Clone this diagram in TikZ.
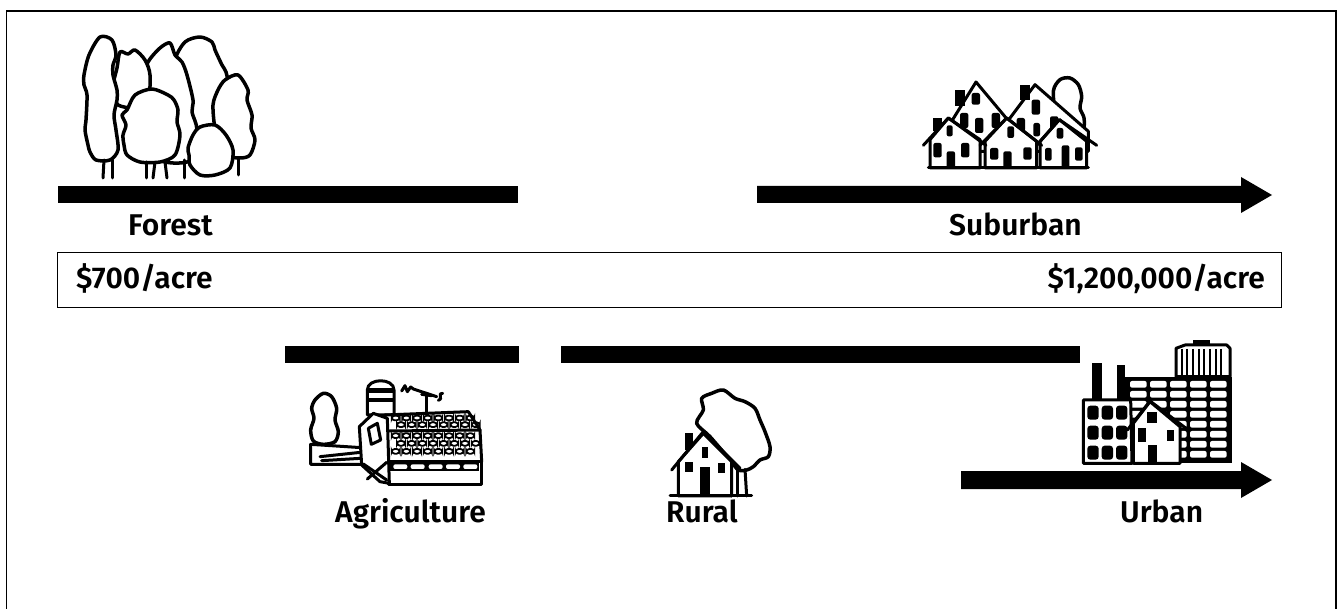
\documentclass[tikz,border=0pt]{standalone}
\usepackage{fontspec}
\setmainfont{Fira Sans}[BoldFont={Fira Sans SemiBold}]
\begin{document}
\begin{tikzpicture}[x=1pt,y=-1pt,
  lbl/.style={font=\fontsize{30}{36}\selectfont\bfseries, inner sep=0pt, anchor=base west},
  ink/.style={line width=3pt, line join=round, line cap=round},
  wob/.style={line width=3.5pt, line join=round},
  stone/.style={line width=1.8pt, rounded corners=3pt}]
\useasboundingbox (0,0) rectangle (1338,609);
\clip (0,0) rectangle (1338,609);
% frame
\draw[line width=1.7pt] (6.5,640) -- (6.5,11) -- (1336,11) -- (1336,640);
% price box
\draw[line width=1.3pt] (57.5,252.5) rectangle (1281.5,307.5);
\node[lbl] (lo) at (76,289) {\$700/acre};
\node[lbl, anchor=base east] (hi) at (1265,289) {\$1,200,000/acre};
% bars and arrows
\fill (58,186) rectangle (518,203);
\fill (757,186) -- (1241,186) -- (1241,177) -- (1272,195) -- (1241,213) -- (1241,203) -- (757,203) -- cycle;
\fill (285,346) rectangle (519,363);
\fill (561,346) rectangle (1080,363);
\fill (961,471) -- (1241,471) -- (1241,462) -- (1272,480) -- (1241,498) -- (1241,489) -- (961,489) -- cycle;
% labels
\node[lbl] (forest) at (128,236) {Forest};
\node[lbl] (suburban) at (949,236) {Suburban};
\node[lbl] (agri) at (335,522) {Agriculture};
\node[lbl] (rural) at (666,522) {Rural};
\node[lbl] (urban) at (1120,522) {Urban};

% ---------- forest ----------
\draw[wob, fill=white] plot[smooth cycle] coordinates {(185,42) (200,37) (212,42) (215,50) (222,65) (226,72) (228,85) (225,110) (219,118) (215,130) (208,150) (195,140) (188,125) (185,110) (180,95) (178,80) (175,60)};
\draw[wob, fill=white] plot[smooth cycle] coordinates {(160,48) (170,43) (175,55) (182,62) (187,75) (193,100) (192,112) (197,130) (192,160) (160,160) (150,130) (145,110) (146,95) (143,80) (148,62)};
\draw[wob, fill=white] plot[smooth cycle] coordinates {(120,52) (128,54) (135,50) (145,60) (150,75) (148,100) (135,108) (118,105) (115,95) (113,85) (117,68)};
\draw[wob, fill=white] plot[smooth cycle] coordinates {(100,37) (112,40) (116,55) (113,65) (113,75) (117,90) (117,100) (114,115) (116,130) (118,150) (110,160) (96,160) (90,152) (88,145) (85,130) (86,120) (87,95) (84,85) (84,75) (89,55)};
\draw[wob, fill=white] plot[smooth cycle] coordinates {(225,80) (238,75) (248,90) (247,100) (252,115) (251,128) (255,140) (250,155) (240,158) (225,155) (218,140) (215,130) (213,105) (218,90)};
\draw[wob, fill=white] plot[smooth cycle] coordinates {(135,95) (152,89) (168,95) (174,100) (178,110) (177,122) (180,135) (175,155) (160,162) (140,162) (127,155) (124,145) (123,135) (126,125) (122,115) (127,110)};
\draw[wob, fill=white] plot[smooth cycle] coordinates {(200,127) (215,125) (226,135) (233,150) (230,168) (215,175) (200,175) (190,165) (189,155) (188,148) (193,135)};
\draw[ink] (104,160) -- (103,178);
\draw[ink] (112,160) -- (112,178);
\draw[ink] (146,162) -- (146,178);
\draw[ink] (155,162) -- (153,178);
\draw[ink] (165,162) -- (167,178);
\draw[ink] (184,160) -- (184,178);
\draw[ink] (238,158) -- (238,175);

% ---------- suburban ----------
\begin{scope}[shift={(900,68)},scale=1/3]
\draw[wob, fill=white] plot[smooth cycle] coordinates {(460,70) (480,35) (510,30) (535,50) (545,85) (540,120) (552,150) (548,185) (500,190) (470,150)};
\draw[ink, fill=white] (130,200) -- (228,42) -- (335,170) -- (335,250) -- (130,250) -- cycle;
\draw[ink, fill=white] (315,170) -- (405,50) -- (565,190) -- (565,250) -- (315,250) -- cycle;
\fill (165,65) rectangle (195,115);
\fill (360,50) rectangle (390,95);
\fill (100,150) rectangle (125,190);
\foreach \a/\b/\c/\d in {215/75/240/110, 180/135/205/180, 225/150/250/195, 275/135/300/180, 395/95/420/140, 350/150/375/190, 400/165/420/205, 450/145/475/185}
  \fill[rounded corners=2pt] (\a,\b) rectangle (\c,\d);
\draw[ink, fill=white] (90,300) -- (90,215) -- (145,150) -- (240,215) -- (240,300) -- cycle;
\draw[ink, fill=white] (255,300) -- (255,220) -- (320,150) -- (410,220) -- (410,300) -- cycle;
\draw[ink, fill=white] (420,300) -- (420,220) -- (478,155) -- (560,220) -- (560,300) -- cycle;
\draw[ink] (70,232) -- (145,150) -- (258,232);
\draw[ink] (240,232) -- (320,150) -- (425,232);
\draw[ink] (410,232) -- (478,155) -- (590,232);
\foreach \a/\b/\c/\d in {100/225/125/268, 183/225/208/268, 140/250/165/300, 140/172/158/205, 270/240/295/275, 370/238/395/275, 310/250/335/300, 322/175/342/210, 435/240/455/278, 525/238/548/278, 485/232/508/300, 470/180/490/212}
  \fill[rounded corners=2pt] (\a,\b) rectangle (\c,\d);
\draw[ink] (85,300) -- (565,300);
\end{scope}

% ---------- agriculture ----------
\begin{scope}[shift={(290,365)},scale=1/3]
\draw[wob, fill=white] plot[smooth cycle] coordinates {(75,105) (100,85) (125,95) (140,130) (135,165) (145,200) (135,230) (100,238) (70,228) (62,195) (72,160) (65,130)};
\draw[ink, fill=white] (62,238) -- (215,248) -- (215,298) -- (62,298) -- cycle;
\draw[ink] (90,275) -- (212,262);
\draw[ink] (95,287) -- (212,280);
\draw[ink, fill=white] (232,150) -- (232,75) .. controls (232,38) and (312,38) .. (312,75) -- (312,150) -- cycle;
\fill (234,70) rectangle (310,84);
\fill (234,100) rectangle (310,110);
\draw[ink] (410,140) -- (410,85);
\draw[ink] (335,78) -- (345,62) -- (352,80) -- (362,66) -- (370,72) -- (440,95);
\draw[ink] (395,88) -- (425,92);
\draw[ink] (458,85) .. controls (440,82) and (462,105) .. (445,106);
\draw[ink, fill=white] (285,150) -- (535,140) -- (570,195) -- (575,290) -- (295,290) -- cycle;
\draw[ink] (298,198) -- (570,195);
\foreach \y/\o in {152/0, 172/16, 205/0, 228/16, 252/0}
  \foreach \x in {305,337,...,540}
    \draw[stone] (\x+\o,\y) rectangle ++(24,14);
\draw[ink, fill=white] (295,290) rectangle (575,360);
\fill (300,292) rectangle (568,318);
\foreach \x in {310,362,416,468,520}
  \fill[white, rounded corners=2pt] (\x,298) rectangle ++(42,14);
\draw[ink, fill=white] (208,185) -- (250,145) -- (292,160) -- (298,355) -- (270,350) -- (215,300) -- cycle;
\draw[ink, fill=white] (235,190) -- (262,175) -- (272,225) -- (244,238) -- cycle;
\draw[ink] (220,297) -- (290,345);
\draw[ink] (232,342) -- (290,292);
\end{scope}

% ---------- rural ----------
\begin{scope}[shift={(660,370)},scale=1/3]
\draw[wob, fill=white] plot[smooth cycle] coordinates {(110,160) (130,120) (125,85) (155,70) (190,60) (225,85) (255,95) (285,115) (300,150) (315,185) (330,230) (325,260) (300,270) (280,290) (260,300) (235,300) (210,270) (150,200)};
\draw[ink] (232,295) -- (232,378);
\draw[ink] (255,298) -- (260,378);
\draw[ink] (215,285) -- (215,378);
\fill (75,190) rectangle (100,240);
\draw[ink, fill=white] (55,378) -- (55,275) -- (130,190) -- (215,275) -- (215,378) -- cycle;
\draw[ink] (35,300) -- (130,185) -- (240,295);
\fill (125,230) rectangle (145,265);
\fill (75,275) rectangle (100,305);
\fill (175,280) rectangle (195,308);
\fill (120,290) rectangle (150,378);
\draw[ink] (30,378) -- (275,378);
\end{scope}

% ---------- urban ----------
\begin{scope}[shift={(1070,335)},scale=1/3]
\draw[ink, fill=white] (318,125) -- (318,40) -- (345,30) -- (470,30) -- (480,40) -- (480,125) -- cycle;
\fill (370,16) rectangle (420,30);
\foreach \x in {335,352,...,470}
  \draw[line width=2.2pt] (\x,42) -- (\x,122);
\fill (165,125) rectangle (486,385);
\foreach \r in {0,...,7}
  \foreach \c in {180,240,300,360,420}
    \fill[white, rounded corners=2pt] (\c,138+30*\r) rectangle ++(50,20);
\fill (65,85) rectangle (95,200);
\fill (140,90) rectangle (165,200);
\draw[ink, fill=white] (40,195) -- (182,195) -- (186,385) -- (40,385) -- cycle;
\foreach \a/\b in {52/212, 95/212, 138/212, 52/272, 95/272, 138/272, 52/332, 95/332, 138/332}
  \fill[rounded corners=3pt] (\a,\b) rectangle ++(34,42);
\draw[ink, fill=white] (190,385) -- (190,265) -- (240,200) -- (330,275) -- (330,385) -- cycle;
\draw[ink] (172,285) -- (240,198) -- (348,280);
\fill (230,230) rectangle (262,265);
\fill (205,280) rectangle (228,320);
\fill (290,285) rectangle (312,318);
\fill (235,330) rectangle (262,385);
\end{scope}
\end{tikzpicture}
\end{document}
